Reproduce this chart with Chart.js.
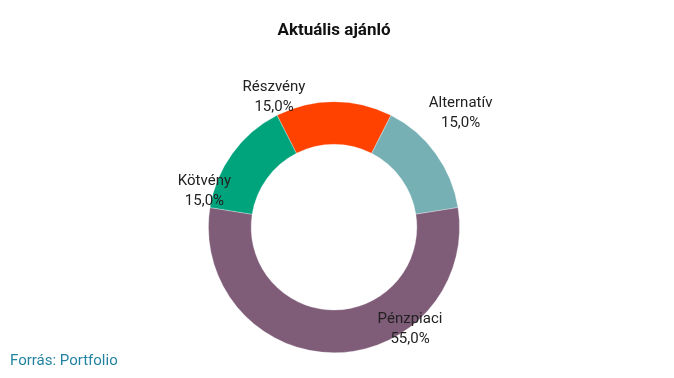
<!DOCTYPE html>
<html>
<head>
<meta charset="utf-8">
<script src="https://cdn.jsdelivr.net/npm/chart.js@4"></script>
<style>
  html, body { margin: 0; padding: 0; background: #fff; }
  #wrap { width: 674px; height: 378px; position: relative; }
</style>
</head>
<body>
<div id="wrap"><canvas id="myChart"></canvas></div>
<script>
const categories = ['Részvény', 'Alternatív', 'Pénzpiaci', 'Kötvény'];
const shares = [15, 15, 55, 15];
const colors = ['#FF4200', '#76B0B5', '#7F5C78', '#00A47C'];
// label shift from the outer middle of each slice
const labelShift = [[-60, -4], [25, -40], [76, -24], [-28, 38]];

const sliceLabels = {
    id: 'sliceLabels',
    afterDatasetsDraw(chart) {
        const ctx = chart.ctx;
        const meta = chart.getDatasetMeta(0);
        ctx.save();
        ctx.font = '15px Roboto';
        ctx.fillStyle = '#222';
        ctx.textAlign = 'center';
        ctx.textBaseline = 'middle';
        meta.data.forEach(function(arc, i) {
            const p = arc.getProps(['x', 'y', 'startAngle', 'endAngle', 'outerRadius'], true);
            const mid = (p.startAngle + p.endAngle) / 2;
            const x = p.x + Math.cos(mid) * p.outerRadius + labelShift[i][0];
            const y = p.y + Math.sin(mid) * p.outerRadius + labelShift[i][1];
            ctx.fillText(categories[i], x, y - 10);
            ctx.fillText(shares[i].toFixed(1).replace('.', ',') + '%', x, y + 10);
        });
        // forrás
        ctx.textAlign = 'left';
        ctx.fillStyle = '#2283A0';
        ctx.fillText('Forrás: Portfolio', 10, 361);
        ctx.restore();
    }
};

new Chart(document.getElementById('myChart'), {
    type: 'doughnut',
    data: {
        labels: categories,
        datasets: [{
            data: shares,
            backgroundColor: colors,
            borderColor: 'rgba(255,255,255,0.6)',
            borderWidth: 0.5
        }]
    },
    options: {
        responsive: true,
        maintainAspectRatio: false,
        animation: false,
        rotation: -27,
        cutout: '66%',
        layout: { padding: { top: 0, bottom: 25, left: 0, right: 6 } },
        plugins: {
            legend: { display: false },
            tooltip: { enabled: false },
            title: {
                display: true,
                text: 'Aktuális ajánló',
                color: '#111',
                font: { family: 'Roboto', size: 17, weight: 'bold' },
                padding: { top: 21, bottom: 60 }
            }
        }
    },
    plugins: [sliceLabels]
});
</script>
</body>
</html>
